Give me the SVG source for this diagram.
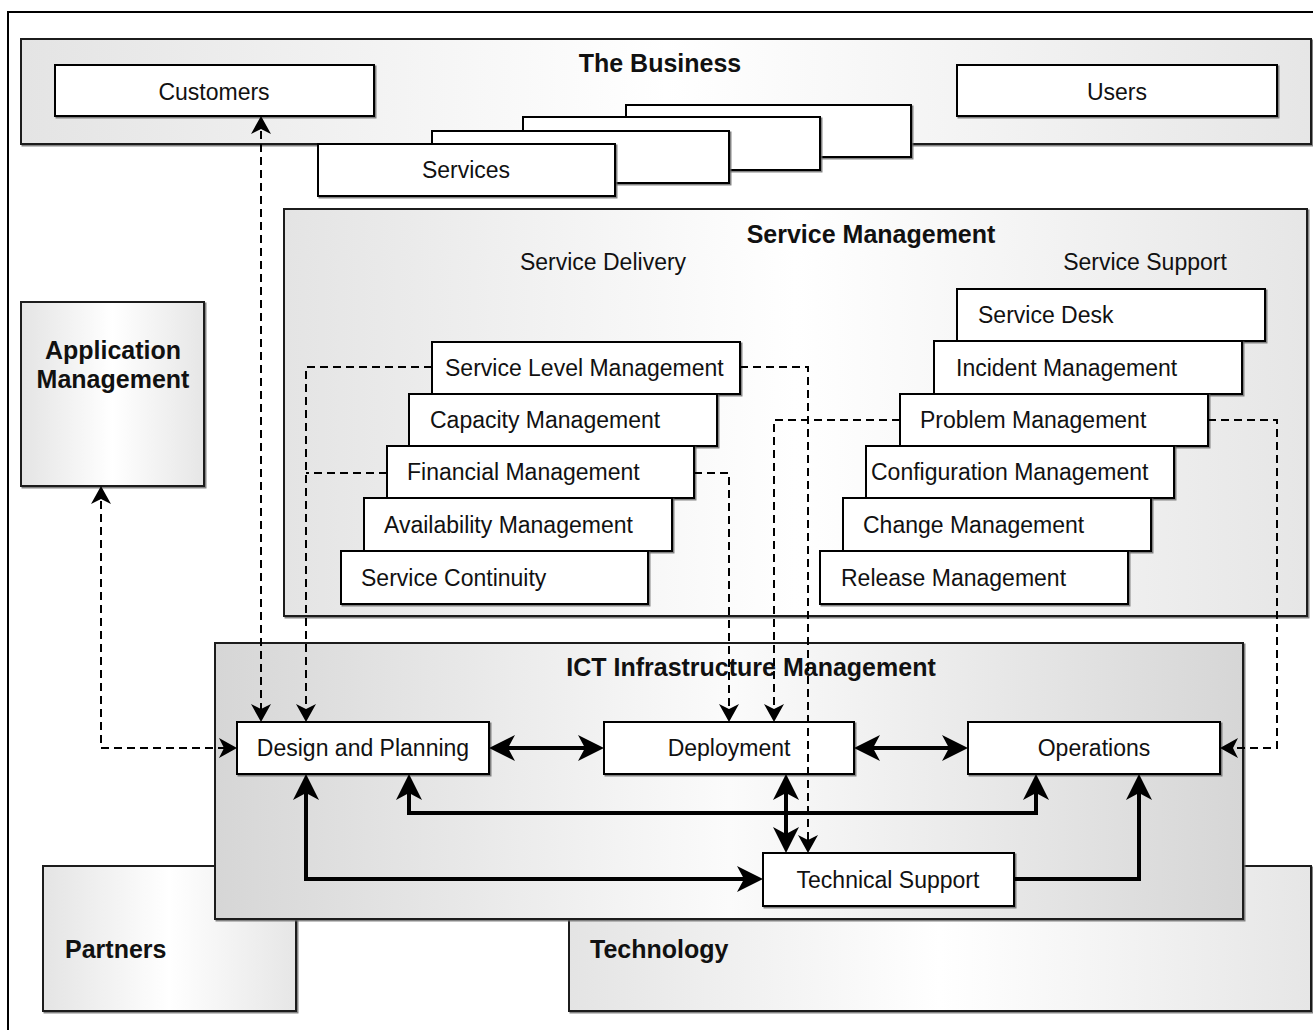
<svg xmlns="http://www.w3.org/2000/svg" width="1313" height="1030" viewBox="0 0 1313 1030">
<defs>
  <linearGradient id="gLight" x1="0" y1="0" x2="1" y2="0">
    <stop offset="0" stop-color="#e4e4e4"/>
    <stop offset="0.5" stop-color="#ffffff"/>
    <stop offset="1" stop-color="#e6e6e6"/>
  </linearGradient>
  <linearGradient id="gDark" x1="0" y1="0" x2="1" y2="0">
    <stop offset="0" stop-color="#d6d6d6"/>
    <stop offset="0.5" stop-color="#fbfbfb"/>
    <stop offset="1" stop-color="#d6d6d6"/>
  </linearGradient>
  <filter id="sh" x="-5%" y="-5%" width="110%" height="115%">
    <feDropShadow dx="1.5" dy="1.5" stdDeviation="0.4" flood-color="#666" flood-opacity="0.8"/>
  </filter>
  <marker id="sa" markerUnits="userSpaceOnUse" viewBox="0 0 26 26" markerWidth="26" markerHeight="26" refX="22" refY="13" orient="auto-start-reverse">
    <path d="M0,0 L26,13 L0,26 L7,13 Z" fill="#000"/>
  </marker>
  <marker id="da" markerUnits="userSpaceOnUse" viewBox="0 0 18 20" markerWidth="18" markerHeight="20" refX="16" refY="10" orient="auto-start-reverse">
    <path d="M0,0 L18,10 L0,20 L5,10 Z" fill="#000"/>
  </marker>
</defs>
<style>
  .frame { fill: none; stroke: #000; stroke-width: 2; }
  .cont { stroke: #1a1a1a; stroke-width: 2; filter: url(#sh); }
  .box { fill: #fff; stroke: #000; stroke-width: 2; filter: url(#sh); }
  .t { font-family: "Liberation Sans", Arial, sans-serif; font-size: 23px; fill: #111; }
  .tc { text-anchor: middle; }
  .b { font-family: "Liberation Sans", Arial, sans-serif; font-size: 25px; font-weight: bold; fill: #111; }
  .solid { fill: none; stroke: #000; stroke-width: 4; }
  .dash { fill: none; stroke: #000; stroke-width: 2; stroke-dasharray: 8 5; }
</style>

<rect class="frame" x="8" y="12" width="1330" height="1040"/>

<g id="the-business">
  <rect class="cont" x="21" y="39" width="1290" height="105" fill="url(#gLight)"/>
  <text class="b tc" x="660" y="72">The Business</text>
</g>
<g id="customers">
  <rect class="box" x="55" y="65" width="319" height="51"/>
  <text class="t tc" x="214" y="100">Customers</text>
</g>
<g id="users">
  <rect class="box" x="957" y="65" width="320" height="51"/>
  <text class="t tc" x="1117" y="100">Users</text>
</g>
<g id="services">
  <rect class="box" x="626" y="105" width="285" height="52"/>
  <rect class="box" x="523" y="117" width="297" height="53"/>
  <rect class="box" x="432" y="131" width="297" height="52"/>
  <rect class="box" x="318" y="144" width="297" height="52"/>
  <text class="t tc" x="466" y="178">Services</text>
</g>

<g id="service-management">
  <rect class="cont" x="284" y="209" width="1023" height="407" fill="url(#gLight)"/>
  <text class="b tc" x="871" y="243">Service Management</text>
  <text class="t tc" x="603" y="270">Service Delivery</text>
  <text class="t tc" x="1145" y="270">Service Support</text>
</g>

<g id="application-management">
  <rect class="cont" x="21" y="302" width="183" height="184" fill="url(#gLight)"/>
  <text class="b tc" x="113" y="359">Application</text>
  <text class="b tc" x="113" y="388">Management</text>
</g>

<g id="partners">
  <rect class="cont" x="43" y="866" width="253" height="145" fill="url(#gLight)"/>
  <text class="b" x="65" y="958">Partners</text>
</g>
<g id="technology">
  <rect class="cont" x="569" y="866" width="742" height="145" fill="url(#gLight)"/>
  <text class="b" x="590" y="958">Technology</text>
</g>

<g id="ict-infrastructure-management">
  <rect class="cont" x="215" y="643" width="1028" height="276" fill="url(#gDark)"/>
  <text class="b tc" x="751" y="676">ICT Infrastructure Management</text>
</g>

<g id="service-delivery-stack">
  <g id="service-level-management">
    <rect class="box" x="432" y="342" width="308" height="52"/>
    <text class="t" x="445" y="376">Service Level Management</text>
  </g>
  <g id="capacity-management">
    <rect class="box" x="409" y="394" width="308" height="52"/>
    <text class="t" x="430" y="428">Capacity Management</text>
  </g>
  <g id="financial-management">
    <rect class="box" x="387" y="446" width="307" height="52"/>
    <text class="t" x="407" y="480">Financial Management</text>
  </g>
  <g id="availability-management">
    <rect class="box" x="364" y="498" width="308" height="53"/>
    <text class="t" x="384" y="533">Availability Management</text>
  </g>
  <g id="service-continuity">
    <rect class="box" x="341" y="551" width="307" height="53"/>
    <text class="t" x="361" y="586">Service Continuity</text>
  </g>
</g>

<g id="service-support-stack">
  <g id="service-desk">
    <rect class="box" x="957" y="289" width="308" height="52"/>
    <text class="t" x="978" y="323">Service Desk</text>
  </g>
  <g id="incident-management">
    <rect class="box" x="934" y="341" width="308" height="53"/>
    <text class="t" x="956" y="376">Incident Management</text>
  </g>
  <g id="problem-management">
    <rect class="box" x="900" y="394" width="308" height="52"/>
    <text class="t" x="920" y="428">Problem Management</text>
  </g>
  <g id="configuration-management">
    <rect class="box" x="866" y="446" width="308" height="52"/>
    <text class="t" x="871" y="480">Configuration Management</text>
  </g>
  <g id="change-management">
    <rect class="box" x="843" y="498" width="308" height="53"/>
    <text class="t" x="863" y="533">Change Management</text>
  </g>
  <g id="release-management">
    <rect class="box" x="820" y="551" width="308" height="53"/>
    <text class="t" x="841" y="586">Release Management</text>
  </g>
</g>

<g id="design-and-planning">
  <rect class="box" x="237" y="722" width="252" height="52"/>
  <text class="t tc" x="363" y="756">Design and Planning</text>
</g>
<g id="deployment">
  <rect class="box" x="604" y="722" width="250" height="52"/>
  <text class="t tc" x="729" y="756">Deployment</text>
</g>
<g id="operations">
  <rect class="box" x="968" y="722" width="252" height="52"/>
  <text class="t tc" x="1094" y="756">Operations</text>
</g>
<g id="technical-support">
  <rect class="box" x="763" y="853" width="251" height="53"/>
  <text class="t tc" x="888" y="888">Technical Support</text>
</g>

<g id="connectors">
  <path class="solid" d="M493,748 H600" marker-start="url(#sa)" marker-end="url(#sa)"/>
  <path class="solid" d="M858,748 H964" marker-start="url(#sa)" marker-end="url(#sa)"/>
  <path class="solid" d="M409,778 V813 H1036 V778" marker-start="url(#sa)" marker-end="url(#sa)"/>
  <path class="solid" d="M306,778 V879 H759" marker-start="url(#sa)" marker-end="url(#sa)"/>
  <path class="solid" d="M786,778 V849" marker-start="url(#sa)" marker-end="url(#sa)"/>
  <path class="solid" d="M1014,879 H1139 V778" marker-end="url(#sa)"/>

  <path class="dash" d="M261,118 V720" marker-start="url(#da)" marker-end="url(#da)"/>
  <path class="dash" d="M101,488 V748 H235" marker-start="url(#da)" marker-end="url(#da)"/>
  <path class="dash" d="M432,367 H306 V720" marker-end="url(#da)"/>
  <path class="dash" d="M387,473 H306"/>
  <path class="dash" d="M740,367 H808 V851" marker-end="url(#da)"/>
  <path class="dash" d="M694,473 H729 V720" marker-end="url(#da)"/>
  <path class="dash" d="M900,420 H774 V720" marker-end="url(#da)"/>
  <path class="dash" d="M1208,420 H1277 V748 H1222" marker-end="url(#da)"/>
</g>
</svg>
